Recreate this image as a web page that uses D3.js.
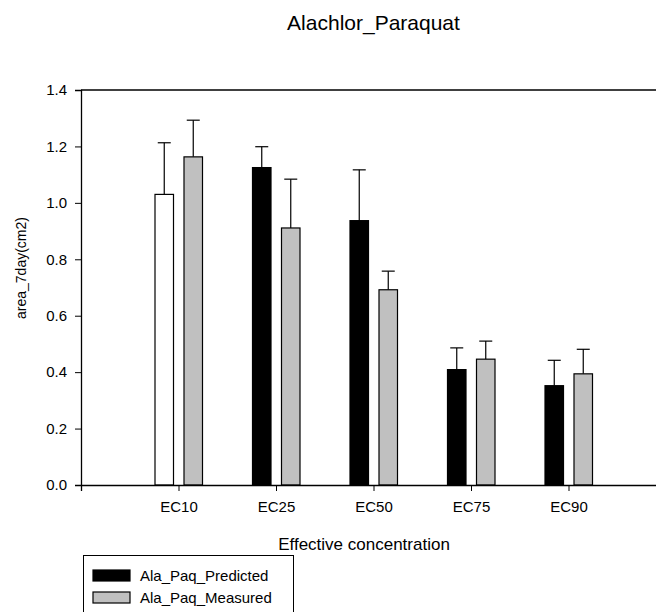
<!DOCTYPE html>
<html>
<head>
<meta charset="utf-8">
<script src="https://cdn.jsdelivr.net/npm/d3@7"></script>
<style>
  html, body { margin: 0; padding: 0; background: #fff; }
  svg { display: block; font-family: "Liberation Sans", Arial, sans-serif; }
</style>
</head>
<body>
<svg id="chart" width="656" height="612"></svg>
<script>
// Effective concentrations on the x axis
const categories = ["EC10", "EC25", "EC50", "EC75", "EC90"];
// Mean leaf area after 7 days (cm2)
const predicted = [1.03, 1.125, 0.937, 0.409, 0.352];
const predictedErr = [0.183, 0.074, 0.18, 0.077, 0.09];
const measured = [1.163, 0.911, 0.692, 0.446, 0.394];
const measuredErr = [0.13, 0.173, 0.066, 0.064, 0.087];
const yTicks = [0, 0.2, 0.4, 0.6, 0.8, 1.0, 1.2, 1.4];
const seriesNames = ["Ala_Paq_Predicted", "Ala_Paq_Measured"];

const svg = d3.select("#chart");
const plotLeft = 81, plotRight = 666, plotTop = 90, plotBottom = 485;

const x = d3.scalePoint().domain(categories).range([plotLeft, plotRight]).padding(1);
const y = d3.scaleLinear().domain([0, 1.4]).range([plotBottom, plotTop]);

const barW = 18.5;
const series = [
  { name: seriesNames[0], values: predicted, err: predictedErr, dx: -23.5,
    fill: (i) => i === 0 ? "#ffffff" : "#000000" },
  { name: seriesNames[1], values: measured, err: measuredErr, dx: 5.5,
    fill: () => "#c0c0c0" }
];

// title
svg.append("text")
  .attr("x", (plotLeft + plotRight) / 2).attr("y", 29.5)
  .attr("text-anchor", "middle")
  .attr("font-size", 21)
  .text("Alachlor_Paraquat");

// frame top line
svg.append("line")
  .attr("x1", plotLeft).attr("x2", plotRight).attr("y1", plotTop).attr("y2", plotTop)
  .attr("stroke", "#000").attr("stroke-width", 1.3);

// bars and error bars
series.forEach(s => {
  const g = svg.append("g");
  categories.forEach((c, i) => {
    const bx = x(c) + s.dx;
    const v = s.values[i];
    const hi = v + s.err[i];
    const cx = bx + barW / 2;
    g.append("line")
      .attr("x1", cx).attr("x2", cx)
      .attr("y1", y(v)).attr("y2", y(hi))
      .attr("stroke", "#000").attr("stroke-width", 1.2);
    g.append("line")
      .attr("x1", cx - 6.5).attr("x2", cx + 6.5)
      .attr("y1", y(hi)).attr("y2", y(hi))
      .attr("stroke", "#000").attr("stroke-width", 1.2);
    g.append("rect")
      .attr("x", bx).attr("y", y(v))
      .attr("width", barW).attr("height", y(0) - y(v))
      .attr("fill", s.fill(i))
      .attr("stroke", "#000").attr("stroke-width", 1.2);
  });
});

// axes
const yAxis = d3.axisLeft(y).tickValues(yTicks).tickFormat(d3.format(".1f"))
  .tickSize(6).tickPadding(8);
const gy = svg.append("g").attr("transform", `translate(${plotLeft},0)`).call(yAxis);
gy.select(".domain").attr("stroke", "#000").attr("stroke-width", 1.3);
gy.selectAll("text").attr("font-size", 15).attr("font-family", "Liberation Sans, Arial, sans-serif").attr("fill", "#000");

const xAxis = d3.axisBottom(x).tickSize(6).tickPadding(10);
const gx = svg.append("g").attr("transform", `translate(0,${plotBottom})`).call(xAxis);
gx.select(".domain").attr("stroke", "#000").attr("stroke-width", 1.3);
gx.selectAll("text").attr("font-size", 15).attr("font-family", "Liberation Sans, Arial, sans-serif").attr("fill", "#000");

// axis titles
svg.append("text")
  .attr("transform", "translate(26,268) rotate(-90)")
  .attr("text-anchor", "middle")
  .attr("font-size", 14)
  .text("area_7day(cm2)");

svg.append("text")
  .attr("x", 364).attr("y", 550)
  .attr("text-anchor", "middle")
  .attr("font-size", 17)
  .text("Effective concentration");

// legend
const lg = svg.append("g");
lg.append("rect")
  .attr("x", 83.5).attr("y", 555.5).attr("width", 210).attr("height", 70)
  .attr("fill", "#fff").attr("stroke", "#000").attr("stroke-width", 1);
const legendFills = ["#000000", "#c0c0c0"];
seriesNames.forEach((n, i) => {
  const yy = 570 + i * 22;
  lg.append("rect")
    .attr("x", 93).attr("y", yy).attr("width", 37).attr("height", 11)
    .attr("fill", legendFills[i]).attr("stroke", "#000").attr("stroke-width", 1.2);
  lg.append("text")
    .attr("x", 140).attr("y", yy + 10.5)
    .attr("font-size", 15)
    .text(n);
});
</script>
</body>
</html>
